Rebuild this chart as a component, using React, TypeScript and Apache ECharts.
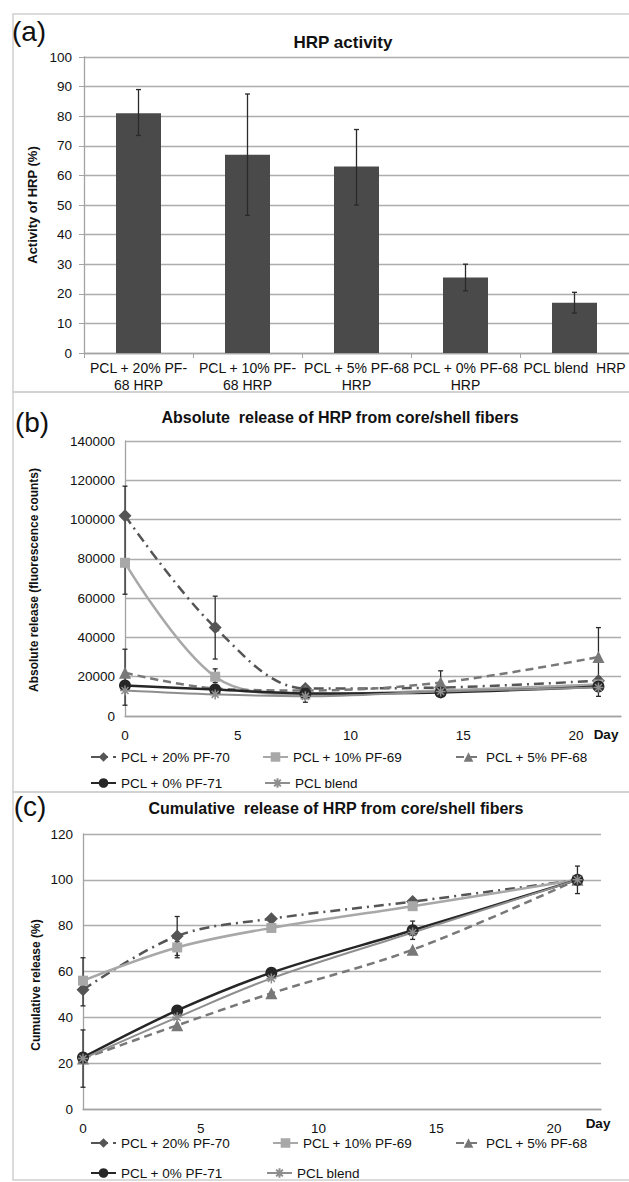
import React, { useEffect, useRef } from "react";
import * as echarts from "echarts";

// ---------- Data ----------
const barCategories = [
  "PCL + 20% PF-\n68 HRP",
  "PCL + 10% PF-\n68 HRP",
  "PCL + 5% PF-68\nHRP",
  "PCL + 0% PF-68\nHRP",
  "PCL blend  HRP",
];
const barValues = [81, 67, 63, 25.5, 17];
const barErrLow = [73.5, 46.5, 50, 21, 13.5];
const barErrHigh = [89, 87.5, 75.5, 30, 20.5];
const barTicks = [0, 100, 10];

const days = [0, 4, 8, 14, 21];
const seriesNames = ["PCL + 20% PF-70", "PCL + 10% PF-69", "PCL + 5% PF-68", "PCL + 0% PF-71", "PCL blend"];

const absPF20 = [102000, 45000, 14000, 14500, 18000];
const absPF10 = [78000, 20000, 11000, 13000, 16000];
const absPF5 = [22000, 14000, 13000, 17000, 30000];
const absPF0 = [15500, 13500, 11500, 12000, 15000];
const absBlend = [13000, 11000, 10000, 12500, 14500];
// [day, low, high]
const absErrorBars = [
  [0, 62000, 117000],
  [4, 29000, 61000],
  [4, 17000, 24000],
  [0, 5500, 34000],
  [8, 7000, 15000],
  [14, 11000, 23000],
  [21, 15000, 45000],
  [21, 10000, 20000],
];

const cumPF20 = [52, 75.5, 83, 90.5, 100];
const cumPF10 = [56, 70.5, 79, 88.5, 100];
const cumPF5 = [22, 36.5, 50.5, 69.5, 100];
const cumPF0 = [22.5, 43, 59.5, 78, 100];
const cumBlend = [22, 40, 57, 77, 100];
const cumErrorBars = [
  [0, 45, 66],
  [0, 9.5, 34.5],
  [4, 67, 84],
  [4, 66, 73],
  [14, 74, 82],
  [21, 94, 106],
];

// ---------- Styles ----------
const FONT = "Liberation Sans, Arial, sans-serif";
const axisGray = "#a3a3a3";
const gridGray = "#adadad";
const textCol = "#111111";
const starPath = "path://M5,0L5,10M0,5L10,5M1.5,1.5L8.5,8.5M1.5,8.5L8.5,1.5";

const lineStyles = [
  { color: "#555555", symbol: "diamond", symbolSize: 13, type: [10, 5, 2, 5] as any, width: 2.5 },
  { color: "#a8a8a8", symbol: "rect", symbolSize: 10, type: "solid", width: 2.5 },
  { color: "#787878", symbol: "triangle", symbolSize: 12, type: [8, 5] as any, width: 2.5 },
  { color: "#262626", symbol: "circle", symbolSize: 12, type: "solid", width: 2.5 },
  { color: "#8e8e8e", symbol: starPath, symbolSize: 10, type: "solid", width: 2 },
];

function errRender(cap: number) {
  return (params: any, api: any) => {
    const x = api.value(0);
    const lo = api.value(1);
    const hi = api.value(2);
    const p1 = api.coord([x, hi]);
    const p2 = api.coord([x, lo]);
    const st = { stroke: "#2a2a2a", lineWidth: 1.3 };
    return {
      type: "group",
      children: [
        { type: "line", shape: { x1: p1[0], y1: p1[1], x2: p2[0], y2: p2[1] }, style: st },
        { type: "line", shape: { x1: p1[0] - cap, y1: p1[1], x2: p1[0] + cap, y2: p1[1] }, style: st },
        { type: "line", shape: { x1: p2[0] - cap, y1: p2[1], x2: p2[0] + cap, y2: p2[1] }, style: st },
      ],
    };
  };
}

function lineSeries(values: number[][], gi: number) {
  return values.map((vals, i) => {
    const s = lineStyles[i];
    return {
      type: "line",
      name: seriesNames[i],
      xAxisIndex: gi,
      yAxisIndex: gi,
      data: days.map((d, k) => [d, vals[k]]),
      smooth: 0.35,
      symbol: s.symbol,
      symbolSize: s.symbolSize,
      showSymbol: true,
      lineStyle: { color: s.color, width: s.width, type: s.type },
      itemStyle: {
        color: s.color,
        borderColor: s.color,
        borderWidth: i === 4 ? 1.5 : 0,
      },
      z: 3,
    };
  });
}

function legends(rows: { names: string[]; lefts: number[]; top: number }[]) {
  const out: any[] = [];
  rows.forEach((r) => {
    r.names.forEach((n, i) => {
      out.push({
        data: [n],
        left: r.lefts[i],
        top: r.top,
        padding: 0,
        itemWidth: 25,
        itemHeight: 12,
        textStyle: { fontSize: 13.5, color: textCol, fontFamily: FONT },
      });
    });
  });
  return out;
}

function valueY(gi: number, max: number, interval: number, margin: number, tick: boolean) {
  return {
    type: "value",
    gridIndex: gi,
    min: 0,
    max,
    interval,
    axisLine: { show: true, lineStyle: { color: axisGray, width: 1.3 } },
    axisTick: { show: tick, length: 5, lineStyle: { color: axisGray } },
    splitLine: { show: true, lineStyle: { color: gridGray, width: 1.4 } },
    axisLabel: { fontSize: 13.5, color: textCol, margin, fontFamily: FONT, formatter: (v: number) => String(v) },
  };
}

function dayX(gi: number) {
  return {
    type: "value",
    gridIndex: gi,
    min: 0,
    max: 22,
    interval: 5,
    axisLine: { show: true, onZero: false, lineStyle: { color: axisGray, width: 1.3 } },
    axisTick: { show: false },
    splitLine: { show: false },
    axisLabel: { fontSize: 13.5, color: textCol, margin: 12, showMaxLabel: false, fontFamily: FONT, formatter: (v: number) => String(v) },
  };
}

function txt(text: string, x: number, y: number, size: number, bold: boolean, extra: any = {}) {
  return {
    type: "text",
    x,
    y,
    style: {
      text,
      fontSize: size,
      fontWeight: bold ? "bold" : "normal",
      fontFamily: FONT,
      fill: textCol,
      align: "center",
      verticalAlign: "middle",
    },
    ...extra,
  };
}

export default function App() {
  const ref = useRef<HTMLDivElement>(null);
  useEffect(() => {
    document.body.style.margin = "0";
    if (!ref.current) return;
    const chart = echarts.init(ref.current, null, { renderer: "svg" });
    const option: any = {
      animation: false,
      backgroundColor: "#ffffff",
      textStyle: { fontFamily: FONT },
      grid: [
        { left: 84, top: 57, width: 550, height: 296 },
        { left: 125, top: 441, width: 496, height: 275 },
        { left: 83, top: 834, width: 518, height: 275 },
      ],
      xAxis: [
        {
          type: "category",
          gridIndex: 0,
          data: barCategories,
          axisLine: { show: true, lineStyle: { color: axisGray, width: 1.3 } },
          axisTick: { show: true, length: 5, lineStyle: { color: axisGray } },
          axisLabel: { interval: 0, fontSize: 14, lineHeight: 17, color: textCol, margin: 6, fontFamily: FONT },
        },
        dayX(1),
        dayX(2),
      ],
      yAxis: [valueY(0, barTicks[1], barTicks[2], 12, true), valueY(1, 140000, 20000, 10, false), valueY(2, 120, 20, 10, false)],
      legend: legends([
        { names: seriesNames.slice(0, 3), lefts: [90, 262, 455], top: 750 },
        { names: seriesNames.slice(3), lefts: [90, 264], top: 776 },
        { names: seriesNames.slice(0, 3), lefts: [90, 272, 455], top: 1136 },
        { names: seriesNames.slice(3), lefts: [90, 266], top: 1166 },
      ]),
      series: [
        {
          type: "bar",
          xAxisIndex: 0,
          yAxisIndex: 0,
          data: barValues,
          barWidth: 45,
          itemStyle: { color: "#4a4a4a" },
        },
        {
          type: "custom",
          xAxisIndex: 0,
          yAxisIndex: 0,
          data: barValues.map((_, i) => [i, barErrLow[i], barErrHigh[i]]),
          encode: { x: 0, y: [1, 2] },
          renderItem: errRender(2.5),
          z: 5,
        },
        ...lineSeries([absPF20, absPF10, absPF5, absPF0, absBlend], 1),
        {
          type: "custom",
          xAxisIndex: 1,
          yAxisIndex: 1,
          data: absErrorBars,
          encode: { x: 0, y: [1, 2] },
          renderItem: errRender(2.5),
          z: 2,
        },
        ...lineSeries([cumPF20, cumPF10, cumPF5, cumPF0, cumBlend], 2),
        {
          type: "custom",
          xAxisIndex: 2,
          yAxisIndex: 2,
          data: cumErrorBars,
          encode: { x: 0, y: [1, 2] },
          renderItem: errRender(2.5),
          z: 2,
        },
      ],
      graphic: [
        { type: "rect", shape: { x: 13, y: 14, width: 640, height: 378 }, style: { fill: "none", stroke: "#cfcfcf", lineWidth: 1.5 } },
        { type: "rect", shape: { x: 13, y: 392, width: 640, height: 400 }, style: { fill: "none", stroke: "#cfcfcf", lineWidth: 1.5 } },
        { type: "rect", shape: { x: 13, y: 792, width: 640, height: 388 }, style: { fill: "none", stroke: "#cfcfcf", lineWidth: 1.5 } },
        txt("(a)", 29, 31, 28, false),
        txt("(b)", 32, 422, 28, false),
        txt("(c)", 30, 806, 28, false),
        txt("HRP activity", 343, 42, 17, true),
        txt("Absolute  release of HRP from core/shell fibers", 340, 417, 16, true),
        txt("Cumulative  release of HRP from core/shell fibers", 336, 808, 16, true),
        txt("Activity of HRP (%)", 32, 205, 13, true, { rotation: Math.PI / 2 }),
        txt("Absolute release (fluorescence counts)", 34, 580, 12, true, { rotation: Math.PI / 2 }),
        txt("Cumulative release (%)", 36, 985, 12, true, { rotation: Math.PI / 2 }),
        txt("Day", 606, 734, 13.5, true),
        txt("Day", 598, 1123, 13.5, true),
      ],
    };
    chart.setOption(option);
    return () => chart.dispose();
  }, []);
  return <div ref={ref} style={{ width: 629, height: 1182 }} />;
}
